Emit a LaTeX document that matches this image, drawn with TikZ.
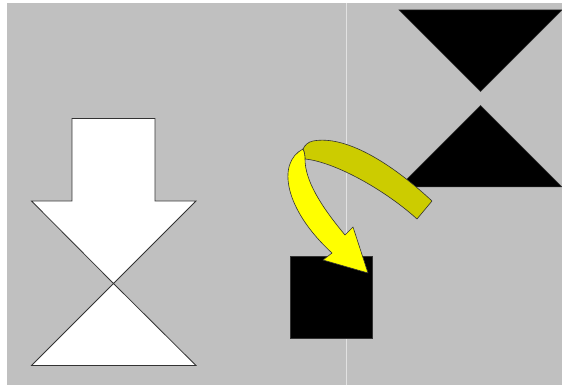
\documentclass[tikz,border=0pt]{standalone}
\usepackage{xcolor}
\usepackage{tikz}
\definecolor{panelgray}{HTML}{C0C0C0}
\definecolor{seamgray}{HTML}{E2E2E2}
\definecolor{ribbonback}{HTML}{CCCC00}
\definecolor{ribbonfront}{HTML}{FFFF00}
\definecolor{edgegray}{HTML}{333333}

\begin{document}
\begin{tikzpicture}[x=1pt,y=-1pt,
    shapeline/.style={draw=edgegray,line width=0.8pt,line join=miter},
    ribbon/.style={draw=edgegray,line width=0.6pt,line join=round}]
    \useasboundingbox (0,0) rectangle (562,387);
    % background and seam
    \fill[panelgray] (7,3) rectangle (562,385);
    \draw[seamgray,line width=1pt] (346.5,3) -- (346.5,385);
    % white arrow with the lower triangle
    \filldraw[white,shapeline] (72,118.5) -- (155,118.5) -- (155,201) -- (196,201)
      -- (113.5,283.5) -- (31.5,201) -- (72,201) -- cycle;
    \filldraw[white,shapeline] (113.5,283.5) -- (196,365.5) -- (31.5,365.5) -- cycle;
    % black triangles, top right
    \filldraw[black,draw=edgegray,line width=0.5pt] (399,10) -- (562,10) -- (480.5,91.5) -- cycle;
    \filldraw[black,draw=edgegray,line width=0.5pt] (480.5,105.5) -- (562,187) -- (399,187) -- cycle;
    % black square
    \filldraw[black,draw=edgegray,line width=0.5pt] (290,256) rectangle (372.5,338);
    % curved arrow: back of the ribbon
    \filldraw[ribbonback,ribbon] (432,201)
      .. controls (390,162) and (345,135) .. (313,141)
      .. controls (308,142) and (305,145) .. (303,149)
      .. controls (304.5,152) and (305,156) .. (305,159)
      .. controls (335,162) and (385,190) .. (417,219)
      -- cycle;
    % curved arrow: front of the ribbon with its head
    \filldraw[ribbonfront,ribbon] (303,149)
      .. controls (276,163) and (285,210) .. (332,253)
      -- (323,260) -- (368,273) -- (353,227) -- (345,235)
      .. controls (320,205) and (305,180) .. (305,159)
      .. controls (305,156) and (304.5,152) .. (303,149)
      -- cycle;
\end{tikzpicture}
\end{document}
